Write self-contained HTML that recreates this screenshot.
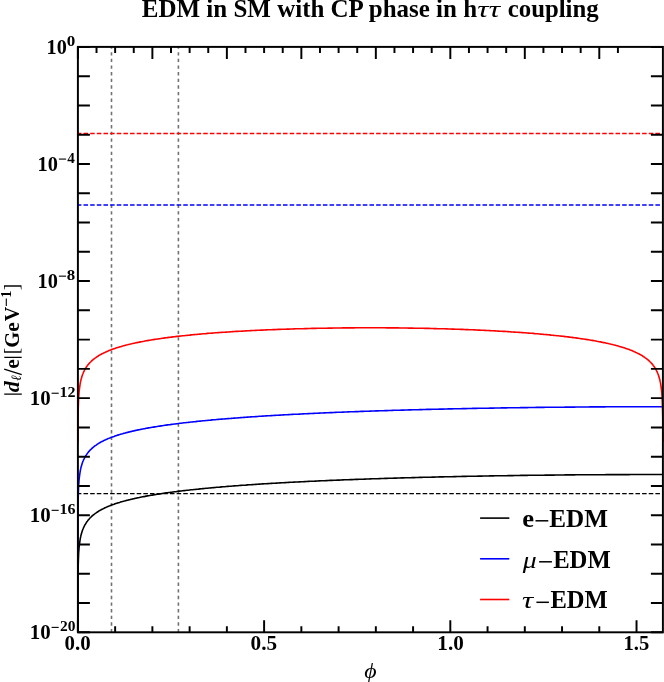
<!DOCTYPE html>
<html><head><meta charset="utf-8"><title>EDM</title>
<style>html,body{margin:0;padding:0;background:#fff;width:664px;height:682px;overflow:hidden}svg{display:block}</style></head>
<body>
<svg width="664" height="682" viewBox="0 0 664 682">
<rect width="664" height="682" fill="#fff"/>
<line x1="111.50" y1="632.30" x2="111.50" y2="46.90" stroke="#727272" stroke-width="1.6" stroke-dasharray="3.3 3.33"/>
<line x1="178.40" y1="632.30" x2="178.40" y2="46.90" stroke="#727272" stroke-width="1.6" stroke-dasharray="3.3 3.33"/>
<line x1="77.90" y1="133.45" x2="662.90" y2="133.45" stroke="#ff0000" stroke-width="1.4" stroke-dasharray="4.55 2.1" stroke-dashoffset="1.05"/>
<line x1="77.90" y1="204.95" x2="662.90" y2="204.95" stroke="#0000ff" stroke-width="1.4" stroke-dasharray="4.55 2.1" stroke-dashoffset="1.05"/>
<line x1="77.90" y1="493.60" x2="662.90" y2="493.60" stroke="#000" stroke-width="1.4" stroke-dasharray="4.55 2.1" stroke-dashoffset="1.05"/>
<g fill="none" stroke-width="1.6" stroke-linejoin="round">
<path d="M77.9 620.9 L77.9 615.3 L77.9 597.7 L77.9 591.6 L78.0 587.3 L78.0 580.0 L78.0 577.6 L78.0 574.4 L78.1 569.7 L78.2 565.8 L78.3 562.4 L78.3 562.3 L78.4 559.4 L78.5 556.7 L78.6 554.3 L78.6 553.5 L78.7 552.1 L78.9 550.1 L79.0 548.2 L79.2 546.4 L79.4 544.8 L79.6 543.3 L79.8 541.8 L80.0 540.4 L80.2 539.1 L80.4 537.9 L80.7 536.7 L80.9 535.6 L81.2 534.5 L81.5 533.5 L81.8 532.5 L82.1 531.5 L82.4 530.6 L82.7 529.7 L83.1 528.8 L83.4 528.0 L83.8 527.2 L84.2 526.4 L84.5 525.7 L84.9 524.9 L85.4 524.2 L85.8 523.5 L86.2 522.9 L86.6 522.2 L87.1 521.6 L87.6 520.9 L88.0 520.3 L88.5 519.7 L89.0 519.2 L89.5 518.6 L90.0 518.0 L90.6 517.5 L91.1 517.0 L91.7 516.4 L92.2 515.9 L92.8 515.4 L93.4 514.9 L94.0 514.5 L94.6 514.0 L95.2 513.5 L95.8 513.1 L96.5 512.6 L97.1 512.2 L97.8 511.8 L98.4 511.3 L99.1 510.9 L99.8 510.5 L100.5 510.1 L101.2 509.7 L102.0 509.3 L102.7 509.0 L103.4 508.6 L104.2 508.2 L105.0 507.8 L105.7 507.5 L106.5 507.1 L107.3 506.8 L108.1 506.4 L109.0 506.1 L109.8 505.8 L110.6 505.4 L111.5 505.1 L112.3 504.8 L113.2 504.5 L114.1 504.2 L115.0 503.8 L115.9 503.5 L116.8 503.2 L117.7 502.9 L118.6 502.7 L119.6 502.4 L120.5 502.1 L121.5 501.8 L122.5 501.5 L123.4 501.2 L124.4 501.0 L125.4 500.7 L126.4 500.4 L127.5 500.2 L128.5 499.9 L129.5 499.7 L130.6 499.4 L131.6 499.2 L132.7 498.9 L133.8 498.7 L134.8 498.4 L135.9 498.2 L137.0 497.9 L138.2 497.7 L139.3 497.5 L140.4 497.2 L141.6 497.0 L142.7 496.8 L143.9 496.6 L145.0 496.4 L146.2 496.1 L147.4 495.9 L148.6 495.7 L149.8 495.5 L151.0 495.3 L152.2 495.1 L153.4 494.9 L154.7 494.7 L155.9 494.5 L157.2 494.3 L158.4 494.1 L159.7 493.9 L161.0 493.7 L162.3 493.5 L163.6 493.3 L164.9 493.1 L166.2 492.9 L167.5 492.7 L168.8 492.5 L170.2 492.4 L171.5 492.2 L172.9 492.0 L174.2 491.8 L175.6 491.7 L177.0 491.5 L178.3 491.3 L179.7 491.1 L181.1 491.0 L182.5 490.8 L184.0 490.6 L185.4 490.5 L186.8 490.3 L188.2 490.2 L189.7 490.0 L191.1 489.8 L192.6 489.7 L194.0 489.5 L195.5 489.4 L197.0 489.2 L198.5 489.1 L200.0 488.9 L201.5 488.8 L203.0 488.6 L204.5 488.5 L206.0 488.3 L207.5 488.2 L209.0 488.0 L210.6 487.9 L212.1 487.7 L213.7 487.6 L215.2 487.5 L216.8 487.3 L218.4 487.2 L219.9 487.1 L221.5 486.9 L223.1 486.8 L224.7 486.7 L226.3 486.5 L227.9 486.4 L229.5 486.3 L231.1 486.2 L232.7 486.0 L234.3 485.9 L236.0 485.8 L237.6 485.7 L239.2 485.5 L240.9 485.4 L242.5 485.3 L244.2 485.2 L245.9 485.1 L247.5 484.9 L249.2 484.8 L250.9 484.7 L252.5 484.6 L254.2 484.5 L255.9 484.4 L257.6 484.3 L259.3 484.1 L261.0 484.0 L262.7 483.9 L264.4 483.8 L266.1 483.7 L267.9 483.6 L269.6 483.5 L271.3 483.4 L273.1 483.3 L274.8 483.2 L276.5 483.1 L278.3 483.0 L280.0 482.9 L281.8 482.8 L283.5 482.7 L285.3 482.6 L287.0 482.5 L288.8 482.4 L290.6 482.3 L292.3 482.2 L294.1 482.1 L295.9 482.0 L297.7 482.0 L299.4 481.9 L301.2 481.8 L303.0 481.7 L304.8 481.6 L306.6 481.5 L308.4 481.4 L310.2 481.3 L312.0 481.3 L313.8 481.2 L315.6 481.1 L317.4 481.0 L319.2 480.9 L321.0 480.8 L322.8 480.8 L324.6 480.7 L326.5 480.6 L328.3 480.5 L330.1 480.4 L331.9 480.4 L333.7 480.3 L335.6 480.2 L337.4 480.1 L339.2 480.1 L341.0 480.0 L342.9 479.9 L344.7 479.8 L346.5 479.8 L348.4 479.7 L350.2 479.6 L352.0 479.6 L353.9 479.5 L355.7 479.4 L357.5 479.4 L359.4 479.3 L361.2 479.2 L363.0 479.2 L364.9 479.1 L366.7 479.0 L368.6 479.0 L370.4 478.9 L372.2 478.8 L374.1 478.8 L375.9 478.7 L377.8 478.7 L379.6 478.6 L381.4 478.5 L383.3 478.5 L385.1 478.4 L386.9 478.4 L388.8 478.3 L390.6 478.3 L392.4 478.2 L394.3 478.1 L396.1 478.1 L397.9 478.0 L399.8 478.0 L401.6 477.9 L403.4 477.9 L405.2 477.8 L407.1 477.8 L408.9 477.7 L410.7 477.7 L412.5 477.6 L414.3 477.6 L416.2 477.5 L418.0 477.5 L419.8 477.4 L421.6 477.4 L423.4 477.3 L425.2 477.3 L427.0 477.2 L428.8 477.2 L430.6 477.2 L432.4 477.1 L434.2 477.1 L436.0 477.0 L437.8 477.0 L439.6 476.9 L441.4 476.9 L443.1 476.9 L444.9 476.8 L446.7 476.8 L448.5 476.7 L450.2 476.7 L452.0 476.7 L453.8 476.6 L455.5 476.6 L457.3 476.5 L459.0 476.5 L460.8 476.5 L462.5 476.4 L464.3 476.4 L466.0 476.4 L467.7 476.3 L469.5 476.3 L471.2 476.3 L472.9 476.2 L474.7 476.2 L476.4 476.2 L478.1 476.1 L479.8 476.1 L481.5 476.1 L483.2 476.0 L484.9 476.0 L486.6 476.0 L488.3 476.0 L489.9 475.9 L491.6 475.9 L493.3 475.9 L494.9 475.8 L496.6 475.8 L498.3 475.8 L499.9 475.8 L501.6 475.7 L503.2 475.7 L504.8 475.7 L506.5 475.7 L508.1 475.6 L509.7 475.6 L511.3 475.6 L512.9 475.6 L514.5 475.5 L516.1 475.5 L517.7 475.5 L519.3 475.5 L520.9 475.4 L522.4 475.4 L524.0 475.4 L525.6 475.4 L527.1 475.4 L528.7 475.3 L530.2 475.3 L531.8 475.3 L533.3 475.3 L534.8 475.3 L536.3 475.2 L537.8 475.2 L539.3 475.2 L540.8 475.2 L542.3 475.2 L543.8 475.2 L545.3 475.1 L546.8 475.1 L548.2 475.1 L549.7 475.1 L551.1 475.1 L552.6 475.1 L554.0 475.1 L555.4 475.0 L556.8 475.0 L558.3 475.0 L559.7 475.0 L561.1 475.0 L562.5 475.0 L563.8 475.0 L565.2 474.9 L566.6 474.9 L567.9 474.9 L569.3 474.9 L570.6 474.9 L572.0 474.9 L573.3 474.9 L574.6 474.9 L575.9 474.8 L577.2 474.8 L578.5 474.8 L579.8 474.8 L581.1 474.8 L582.4 474.8 L583.6 474.8 L584.9 474.8 L586.1 474.8 L587.4 474.8 L588.6 474.8 L589.8 474.7 L591.0 474.7 L592.2 474.7 L593.4 474.7 L594.6 474.7 L595.8 474.7 L596.9 474.7 L598.1 474.7 L599.2 474.7 L600.4 474.7 L601.5 474.7 L602.6 474.7 L603.8 474.7 L604.9 474.7 L606.0 474.6 L607.0 474.6 L608.1 474.6 L609.2 474.6 L610.2 474.6 L611.3 474.6 L612.3 474.6 L613.3 474.6 L614.4 474.6 L615.4 474.6 L616.4 474.6 L617.4 474.6 L618.3 474.6 L619.3 474.6 L620.3 474.6 L621.2 474.6 L622.2 474.6 L623.1 474.6 L624.0 474.6 L624.9 474.6 L625.8 474.6 L626.7 474.6 L627.6 474.6 L628.5 474.6 L629.3 474.6 L630.2 474.5 L631.0 474.5 L631.8 474.5 L632.7 474.5 L633.5 474.5 L634.3 474.5 L635.1 474.5 L635.8 474.5 L636.6 474.5 L637.4 474.5 L638.1 474.5 L638.8 474.5 L639.6 474.5 L640.3 474.5 L641.0 474.5 L641.7 474.5 L642.4 474.5 L643.0 474.5 L643.7 474.5 L644.3 474.5 L645.0 474.5 L645.6 474.5 L646.2 474.5 L646.8 474.5 L647.4 474.5 L648.0 474.5 L648.6 474.5 L649.1 474.5 L649.7 474.5 L650.2 474.5 L650.8 474.5 L651.3 474.5 L651.8 474.5 L652.3 474.5 L652.8 474.5 L653.2 474.5 L653.7 474.5 L654.2 474.5 L654.6 474.5 L655.0 474.5 L655.4 474.5 L655.9 474.5 L656.3 474.5 L656.6 474.5 L657.0 474.5 L657.4 474.5 L657.7 474.5 L658.1 474.5 L658.4 474.5 L658.7 474.5 L659.0 474.5 L659.3 474.5 L659.6 474.5 L659.9 474.5 L660.1 474.5 L660.4 474.5 L660.6 474.5 L660.8 474.5 L661.0 474.5 L661.2 474.5 L661.4 474.5 L661.6 474.5 L661.8 474.5 L661.9 474.5 L662.1 474.5 L662.2 474.5 L662.2 474.5 L662.3 474.5 L662.4 474.5 L662.5 474.5 L662.5 474.5 L662.6 474.5 L662.7 474.5 L662.8 474.5 L662.8 474.5 L662.8 474.5 L662.8 474.5 L662.9 474.5 L662.9 474.5 L662.9 474.5 L662.9 474.5 L662.9 474.5 L662.9 474.5 L662.9 474.5" stroke="#000"/>
<path d="M77.9 553.1 L77.9 547.5 L77.9 529.9 L77.9 523.8 L78.0 519.5 L78.0 512.2 L78.0 509.8 L78.0 506.6 L78.1 501.9 L78.2 498.0 L78.3 494.6 L78.3 494.5 L78.4 491.6 L78.5 488.9 L78.6 486.5 L78.6 485.7 L78.7 484.3 L78.9 482.3 L79.0 480.4 L79.2 478.6 L79.4 477.0 L79.6 475.5 L79.8 474.0 L80.0 472.6 L80.2 471.3 L80.4 470.1 L80.7 468.9 L80.9 467.8 L81.2 466.7 L81.5 465.7 L81.8 464.7 L82.1 463.7 L82.4 462.8 L82.7 461.9 L83.1 461.0 L83.4 460.2 L83.8 459.4 L84.2 458.6 L84.5 457.9 L84.9 457.1 L85.4 456.4 L85.8 455.7 L86.2 455.1 L86.6 454.4 L87.1 453.8 L87.6 453.1 L88.0 452.5 L88.5 451.9 L89.0 451.4 L89.5 450.8 L90.0 450.2 L90.6 449.7 L91.1 449.2 L91.7 448.6 L92.2 448.1 L92.8 447.6 L93.4 447.1 L94.0 446.7 L94.6 446.2 L95.2 445.7 L95.8 445.3 L96.5 444.8 L97.1 444.4 L97.8 444.0 L98.4 443.5 L99.1 443.1 L99.8 442.7 L100.5 442.3 L101.2 441.9 L102.0 441.5 L102.7 441.2 L103.4 440.8 L104.2 440.4 L105.0 440.0 L105.7 439.7 L106.5 439.3 L107.3 439.0 L108.1 438.6 L109.0 438.3 L109.8 438.0 L110.6 437.6 L111.5 437.3 L112.3 437.0 L113.2 436.7 L114.1 436.4 L115.0 436.0 L115.9 435.7 L116.8 435.4 L117.7 435.1 L118.6 434.9 L119.6 434.6 L120.5 434.3 L121.5 434.0 L122.5 433.7 L123.4 433.4 L124.4 433.2 L125.4 432.9 L126.4 432.6 L127.5 432.4 L128.5 432.1 L129.5 431.9 L130.6 431.6 L131.6 431.4 L132.7 431.1 L133.8 430.9 L134.8 430.6 L135.9 430.4 L137.0 430.1 L138.2 429.9 L139.3 429.7 L140.4 429.4 L141.6 429.2 L142.7 429.0 L143.9 428.8 L145.0 428.6 L146.2 428.3 L147.4 428.1 L148.6 427.9 L149.8 427.7 L151.0 427.5 L152.2 427.3 L153.4 427.1 L154.7 426.9 L155.9 426.7 L157.2 426.5 L158.4 426.3 L159.7 426.1 L161.0 425.9 L162.3 425.7 L163.6 425.5 L164.9 425.3 L166.2 425.1 L167.5 424.9 L168.8 424.7 L170.2 424.6 L171.5 424.4 L172.9 424.2 L174.2 424.0 L175.6 423.9 L177.0 423.7 L178.3 423.5 L179.7 423.3 L181.1 423.2 L182.5 423.0 L184.0 422.8 L185.4 422.7 L186.8 422.5 L188.2 422.4 L189.7 422.2 L191.1 422.0 L192.6 421.9 L194.0 421.7 L195.5 421.6 L197.0 421.4 L198.5 421.3 L200.0 421.1 L201.5 421.0 L203.0 420.8 L204.5 420.7 L206.0 420.5 L207.5 420.4 L209.0 420.2 L210.6 420.1 L212.1 419.9 L213.7 419.8 L215.2 419.7 L216.8 419.5 L218.4 419.4 L219.9 419.3 L221.5 419.1 L223.1 419.0 L224.7 418.9 L226.3 418.7 L227.9 418.6 L229.5 418.5 L231.1 418.4 L232.7 418.2 L234.3 418.1 L236.0 418.0 L237.6 417.9 L239.2 417.7 L240.9 417.6 L242.5 417.5 L244.2 417.4 L245.9 417.3 L247.5 417.1 L249.2 417.0 L250.9 416.9 L252.5 416.8 L254.2 416.7 L255.9 416.6 L257.6 416.5 L259.3 416.3 L261.0 416.2 L262.7 416.1 L264.4 416.0 L266.1 415.9 L267.9 415.8 L269.6 415.7 L271.3 415.6 L273.1 415.5 L274.8 415.4 L276.5 415.3 L278.3 415.2 L280.0 415.1 L281.8 415.0 L283.5 414.9 L285.3 414.8 L287.0 414.7 L288.8 414.6 L290.6 414.5 L292.3 414.4 L294.1 414.3 L295.9 414.2 L297.7 414.2 L299.4 414.1 L301.2 414.0 L303.0 413.9 L304.8 413.8 L306.6 413.7 L308.4 413.6 L310.2 413.5 L312.0 413.5 L313.8 413.4 L315.6 413.3 L317.4 413.2 L319.2 413.1 L321.0 413.0 L322.8 413.0 L324.6 412.9 L326.5 412.8 L328.3 412.7 L330.1 412.6 L331.9 412.6 L333.7 412.5 L335.6 412.4 L337.4 412.3 L339.2 412.3 L341.0 412.2 L342.9 412.1 L344.7 412.0 L346.5 412.0 L348.4 411.9 L350.2 411.8 L352.0 411.8 L353.9 411.7 L355.7 411.6 L357.5 411.6 L359.4 411.5 L361.2 411.4 L363.0 411.4 L364.9 411.3 L366.7 411.2 L368.6 411.2 L370.4 411.1 L372.2 411.0 L374.1 411.0 L375.9 410.9 L377.8 410.9 L379.6 410.8 L381.4 410.7 L383.3 410.7 L385.1 410.6 L386.9 410.6 L388.8 410.5 L390.6 410.5 L392.4 410.4 L394.3 410.3 L396.1 410.3 L397.9 410.2 L399.8 410.2 L401.6 410.1 L403.4 410.1 L405.2 410.0 L407.1 410.0 L408.9 409.9 L410.7 409.9 L412.5 409.8 L414.3 409.8 L416.2 409.7 L418.0 409.7 L419.8 409.6 L421.6 409.6 L423.4 409.5 L425.2 409.5 L427.0 409.4 L428.8 409.4 L430.6 409.4 L432.4 409.3 L434.2 409.3 L436.0 409.2 L437.8 409.2 L439.6 409.1 L441.4 409.1 L443.1 409.1 L444.9 409.0 L446.7 409.0 L448.5 408.9 L450.2 408.9 L452.0 408.9 L453.8 408.8 L455.5 408.8 L457.3 408.7 L459.0 408.7 L460.8 408.7 L462.5 408.6 L464.3 408.6 L466.0 408.6 L467.7 408.5 L469.5 408.5 L471.2 408.5 L472.9 408.4 L474.7 408.4 L476.4 408.4 L478.1 408.3 L479.8 408.3 L481.5 408.3 L483.2 408.2 L484.9 408.2 L486.6 408.2 L488.3 408.2 L489.9 408.1 L491.6 408.1 L493.3 408.1 L494.9 408.0 L496.6 408.0 L498.3 408.0 L499.9 408.0 L501.6 407.9 L503.2 407.9 L504.8 407.9 L506.5 407.9 L508.1 407.8 L509.7 407.8 L511.3 407.8 L512.9 407.8 L514.5 407.7 L516.1 407.7 L517.7 407.7 L519.3 407.7 L520.9 407.6 L522.4 407.6 L524.0 407.6 L525.6 407.6 L527.1 407.6 L528.7 407.5 L530.2 407.5 L531.8 407.5 L533.3 407.5 L534.8 407.5 L536.3 407.4 L537.8 407.4 L539.3 407.4 L540.8 407.4 L542.3 407.4 L543.8 407.4 L545.3 407.3 L546.8 407.3 L548.2 407.3 L549.7 407.3 L551.1 407.3 L552.6 407.3 L554.0 407.3 L555.4 407.2 L556.8 407.2 L558.3 407.2 L559.7 407.2 L561.1 407.2 L562.5 407.2 L563.8 407.2 L565.2 407.1 L566.6 407.1 L567.9 407.1 L569.3 407.1 L570.6 407.1 L572.0 407.1 L573.3 407.1 L574.6 407.1 L575.9 407.0 L577.2 407.0 L578.5 407.0 L579.8 407.0 L581.1 407.0 L582.4 407.0 L583.6 407.0 L584.9 407.0 L586.1 407.0 L587.4 407.0 L588.6 407.0 L589.8 406.9 L591.0 406.9 L592.2 406.9 L593.4 406.9 L594.6 406.9 L595.8 406.9 L596.9 406.9 L598.1 406.9 L599.2 406.9 L600.4 406.9 L601.5 406.9 L602.6 406.9 L603.8 406.9 L604.9 406.9 L606.0 406.8 L607.0 406.8 L608.1 406.8 L609.2 406.8 L610.2 406.8 L611.3 406.8 L612.3 406.8 L613.3 406.8 L614.4 406.8 L615.4 406.8 L616.4 406.8 L617.4 406.8 L618.3 406.8 L619.3 406.8 L620.3 406.8 L621.2 406.8 L622.2 406.8 L623.1 406.8 L624.0 406.8 L624.9 406.8 L625.8 406.8 L626.7 406.8 L627.6 406.8 L628.5 406.8 L629.3 406.8 L630.2 406.7 L631.0 406.7 L631.8 406.7 L632.7 406.7 L633.5 406.7 L634.3 406.7 L635.1 406.7 L635.8 406.7 L636.6 406.7 L637.4 406.7 L638.1 406.7 L638.8 406.7 L639.6 406.7 L640.3 406.7 L641.0 406.7 L641.7 406.7 L642.4 406.7 L643.0 406.7 L643.7 406.7 L644.3 406.7 L645.0 406.7 L645.6 406.7 L646.2 406.7 L646.8 406.7 L647.4 406.7 L648.0 406.7 L648.6 406.7 L649.1 406.7 L649.7 406.7 L650.2 406.7 L650.8 406.7 L651.3 406.7 L651.8 406.7 L652.3 406.7 L652.8 406.7 L653.2 406.7 L653.7 406.7 L654.2 406.7 L654.6 406.7 L655.0 406.7 L655.4 406.7 L655.9 406.7 L656.3 406.7 L656.6 406.7 L657.0 406.7 L657.4 406.7 L657.7 406.7 L658.1 406.7 L658.4 406.7 L658.7 406.7 L659.0 406.7 L659.3 406.7 L659.6 406.7 L659.9 406.7 L660.1 406.7 L660.4 406.7 L660.6 406.7 L660.8 406.7 L661.0 406.7 L661.2 406.7 L661.4 406.7 L661.6 406.7 L661.8 406.7 L661.9 406.7 L662.1 406.7 L662.2 406.7 L662.2 406.7 L662.3 406.7 L662.4 406.7 L662.5 406.7 L662.5 406.7 L662.6 406.7 L662.7 406.7 L662.8 406.7 L662.8 406.7 L662.8 406.7 L662.8 406.7 L662.9 406.7 L662.9 406.7 L662.9 406.7 L662.9 406.7 L662.9 406.7 L662.9 406.7 L662.9 406.7" stroke="#0000ff"/>
<path d="M77.9 442.1 L77.9 436.1 L78.0 431.8 L78.0 424.5 L78.0 422.1 L78.0 418.8 L78.1 414.2 L78.2 410.3 L78.3 406.9 L78.3 406.8 L78.4 403.9 L78.5 401.2 L78.6 398.8 L78.6 398.0 L78.7 396.6 L78.9 394.6 L79.0 392.7 L79.2 390.9 L79.4 389.3 L79.6 387.7 L79.8 386.3 L80.0 384.9 L80.2 383.6 L80.4 382.4 L80.7 381.2 L80.9 380.1 L81.2 379.0 L81.5 378.0 L81.8 377.0 L82.1 376.0 L82.4 375.1 L82.7 374.2 L83.1 373.3 L83.4 372.5 L83.8 371.7 L84.2 370.9 L84.5 370.2 L84.9 369.4 L85.4 368.7 L85.8 368.0 L86.2 367.3 L86.6 366.7 L87.1 366.1 L87.6 365.4 L88.0 364.8 L88.5 364.2 L89.0 363.6 L89.5 363.1 L90.0 362.5 L90.6 362.0 L91.1 361.5 L91.7 360.9 L92.2 360.4 L92.8 359.9 L93.4 359.4 L94.0 359.0 L94.6 358.5 L95.2 358.0 L95.8 357.6 L96.5 357.1 L97.1 356.7 L97.8 356.3 L98.4 355.8 L99.1 355.4 L99.8 355.0 L100.5 354.6 L101.2 354.2 L102.0 353.8 L102.7 353.5 L103.4 353.1 L104.2 352.7 L105.0 352.4 L105.7 352.0 L106.5 351.7 L107.3 351.3 L108.1 351.0 L109.0 350.6 L109.8 350.3 L110.6 350.0 L111.5 349.6 L112.3 349.3 L113.2 349.0 L114.1 348.7 L115.0 348.4 L115.9 348.1 L116.8 347.8 L117.7 347.5 L118.6 347.2 L119.6 346.9 L120.5 346.7 L121.5 346.4 L122.5 346.1 L123.4 345.8 L124.4 345.6 L125.4 345.3 L126.4 345.0 L127.5 344.8 L128.5 344.5 L129.5 344.3 L130.6 344.0 L131.6 343.8 L132.7 343.5 L133.8 343.3 L134.8 343.1 L135.9 342.8 L137.0 342.6 L138.2 342.4 L139.3 342.1 L140.4 341.9 L141.6 341.7 L142.7 341.5 L143.9 341.3 L145.0 341.0 L146.2 340.8 L147.4 340.6 L148.6 340.4 L149.8 340.2 L151.0 340.0 L152.2 339.8 L153.4 339.6 L154.7 339.4 L155.9 339.2 L157.2 339.0 L158.4 338.9 L159.7 338.7 L161.0 338.5 L162.3 338.3 L163.6 338.1 L164.9 337.9 L166.2 337.8 L167.5 337.6 L168.8 337.4 L170.2 337.3 L171.5 337.1 L172.9 336.9 L174.2 336.8 L175.6 336.6 L177.0 336.4 L178.3 336.3 L179.7 336.1 L181.1 336.0 L182.5 335.8 L184.0 335.7 L185.4 335.5 L186.8 335.4 L188.2 335.2 L189.7 335.1 L191.1 334.9 L192.6 334.8 L194.0 334.6 L195.5 334.5 L197.0 334.4 L198.5 334.2 L200.0 334.1 L201.5 334.0 L203.0 333.8 L204.5 333.7 L206.0 333.6 L207.5 333.4 L209.0 333.3 L210.6 333.2 L212.1 333.1 L213.7 333.0 L215.2 332.8 L216.8 332.7 L218.4 332.6 L219.9 332.5 L221.5 332.4 L223.1 332.3 L224.7 332.2 L226.3 332.1 L227.9 332.0 L229.5 331.9 L231.1 331.7 L232.7 331.6 L234.3 331.5 L236.0 331.4 L237.6 331.4 L239.2 331.3 L240.9 331.2 L242.5 331.1 L244.2 331.0 L245.9 330.9 L247.5 330.8 L249.2 330.7 L250.9 330.6 L252.5 330.5 L254.2 330.5 L255.9 330.4 L257.6 330.3 L259.3 330.2 L261.0 330.1 L262.7 330.1 L264.4 330.0 L266.1 329.9 L267.9 329.8 L269.6 329.8 L271.3 329.7 L273.1 329.6 L274.8 329.6 L276.5 329.5 L278.3 329.4 L280.0 329.4 L281.8 329.3 L283.5 329.2 L285.3 329.2 L287.0 329.1 L288.8 329.1 L290.6 329.0 L292.3 329.0 L294.1 328.9 L295.9 328.8 L297.7 328.8 L299.4 328.7 L301.2 328.7 L303.0 328.7 L304.8 328.6 L306.6 328.6 L308.4 328.5 L310.2 328.5 L312.0 328.4 L313.8 328.4 L315.6 328.4 L317.4 328.3 L319.2 328.3 L321.0 328.3 L322.8 328.2 L324.6 328.2 L326.5 328.2 L328.3 328.1 L330.1 328.1 L331.9 328.1 L333.7 328.0 L335.6 328.0 L337.4 328.0 L339.2 328.0 L341.0 328.0 L342.9 327.9 L344.7 327.9 L346.5 327.9 L348.4 327.9 L350.2 327.9 L352.0 327.9 L353.9 327.9 L355.7 327.8 L357.5 327.8 L359.4 327.8 L361.2 327.8 L363.0 327.8 L364.9 327.8 L366.7 327.8 L368.6 327.8 L370.4 327.8 L372.2 327.8 L374.1 327.8 L375.9 327.8 L377.8 327.8 L379.6 327.8 L381.4 327.8 L383.3 327.8 L385.1 327.8 L386.9 327.9 L388.8 327.9 L390.6 327.9 L392.4 327.9 L394.3 327.9 L396.1 327.9 L397.9 327.9 L399.8 328.0 L401.6 328.0 L403.4 328.0 L405.2 328.0 L407.1 328.0 L408.9 328.1 L410.7 328.1 L412.5 328.1 L414.3 328.2 L416.2 328.2 L418.0 328.2 L419.8 328.3 L421.6 328.3 L423.4 328.3 L425.2 328.4 L427.0 328.4 L428.8 328.4 L430.6 328.5 L432.4 328.5 L434.2 328.6 L436.0 328.6 L437.8 328.7 L439.6 328.7 L441.4 328.7 L443.1 328.8 L444.9 328.8 L446.7 328.9 L448.5 329.0 L450.2 329.0 L452.0 329.1 L453.8 329.1 L455.5 329.2 L457.3 329.2 L459.0 329.3 L460.8 329.4 L462.5 329.4 L464.3 329.5 L466.0 329.6 L467.7 329.6 L469.5 329.7 L471.2 329.8 L472.9 329.8 L474.7 329.9 L476.4 330.0 L478.1 330.1 L479.8 330.1 L481.5 330.2 L483.2 330.3 L484.9 330.4 L486.6 330.5 L488.3 330.5 L489.9 330.6 L491.6 330.7 L493.3 330.8 L494.9 330.9 L496.6 331.0 L498.3 331.1 L499.9 331.2 L501.6 331.3 L503.2 331.4 L504.8 331.4 L506.5 331.5 L508.1 331.6 L509.7 331.7 L511.3 331.9 L512.9 332.0 L514.5 332.1 L516.1 332.2 L517.7 332.3 L519.3 332.4 L520.9 332.5 L522.4 332.6 L524.0 332.7 L525.6 332.8 L527.1 333.0 L528.7 333.1 L530.2 333.2 L531.8 333.3 L533.3 333.4 L534.8 333.6 L536.3 333.7 L537.8 333.8 L539.3 334.0 L540.8 334.1 L542.3 334.2 L543.8 334.4 L545.3 334.5 L546.8 334.6 L548.2 334.8 L549.7 334.9 L551.1 335.1 L552.6 335.2 L554.0 335.4 L555.4 335.5 L556.8 335.7 L558.3 335.8 L559.7 336.0 L561.1 336.1 L562.5 336.3 L563.8 336.4 L565.2 336.6 L566.6 336.8 L567.9 336.9 L569.3 337.1 L570.6 337.3 L572.0 337.4 L573.3 337.6 L574.6 337.8 L575.9 337.9 L577.2 338.1 L578.5 338.3 L579.8 338.5 L581.1 338.7 L582.4 338.9 L583.6 339.0 L584.9 339.2 L586.1 339.4 L587.4 339.6 L588.6 339.8 L589.8 340.0 L591.0 340.2 L592.2 340.4 L593.4 340.6 L594.6 340.8 L595.8 341.0 L596.9 341.3 L598.1 341.5 L599.2 341.7 L600.4 341.9 L601.5 342.1 L602.6 342.4 L603.8 342.6 L604.9 342.8 L606.0 343.1 L607.0 343.3 L608.1 343.5 L609.2 343.8 L610.2 344.0 L611.3 344.3 L612.3 344.5 L613.3 344.8 L614.4 345.0 L615.4 345.3 L616.4 345.6 L617.4 345.8 L618.3 346.1 L619.3 346.4 L620.3 346.7 L621.2 346.9 L622.2 347.2 L623.1 347.5 L624.0 347.8 L624.9 348.1 L625.8 348.4 L626.7 348.7 L627.6 349.0 L628.5 349.3 L629.3 349.6 L630.2 350.0 L631.0 350.3 L631.8 350.6 L632.7 351.0 L633.5 351.3 L634.3 351.7 L635.1 352.0 L635.8 352.4 L636.6 352.7 L637.4 353.1 L638.1 353.5 L638.8 353.8 L639.6 354.2 L640.3 354.6 L641.0 355.0 L641.7 355.4 L642.4 355.8 L643.0 356.3 L643.7 356.7 L644.3 357.1 L645.0 357.6 L645.6 358.0 L646.2 358.5 L646.8 359.0 L647.4 359.4 L648.0 359.9 L648.6 360.4 L649.1 360.9 L649.7 361.5 L650.2 362.0 L650.8 362.5 L651.3 363.1 L651.8 363.6 L652.3 364.2 L652.8 364.8 L653.2 365.4 L653.7 366.1 L654.2 366.7 L654.6 367.3 L655.0 368.0 L655.4 368.7 L655.9 369.4 L656.3 370.2 L656.6 370.9 L657.0 371.7 L657.4 372.5 L657.7 373.3 L658.1 374.2 L658.4 375.1 L658.7 376.0 L659.0 377.0 L659.3 378.0 L659.6 379.0 L659.9 380.1 L660.1 381.2 L660.4 382.4 L660.6 383.6 L660.8 384.9 L661.0 386.3 L661.2 387.7 L661.4 389.3 L661.6 390.9 L661.8 392.7 L661.9 394.6 L662.1 396.6 L662.2 398.0 L662.2 398.8 L662.3 401.2 L662.4 403.9 L662.5 406.8 L662.5 406.9 L662.6 410.3 L662.7 414.2 L662.8 418.8 L662.8 422.1 L662.8 424.5 L662.8 431.8 L662.9 436.1 L662.9 442.1" stroke="#ff0000"/>
</g>
<path d="M77.90 46.90 h12.0 M662.90 46.90 h-12.0 M77.90 76.17 h12.0 M662.90 76.17 h-12.0 M77.90 105.44 h12.0 M662.90 105.44 h-12.0 M77.90 134.71 h12.0 M662.90 134.71 h-12.0 M77.90 163.98 h12.0 M662.90 163.98 h-12.0 M77.90 193.25 h12.0 M662.90 193.25 h-12.0 M77.90 222.52 h12.0 M662.90 222.52 h-12.0 M77.90 251.79 h12.0 M662.90 251.79 h-12.0 M77.90 281.06 h12.0 M662.90 281.06 h-12.0 M77.90 310.33 h12.0 M662.90 310.33 h-12.0 M77.90 339.60 h12.0 M662.90 339.60 h-12.0 M77.90 368.87 h12.0 M662.90 368.87 h-12.0 M77.90 398.14 h12.0 M662.90 398.14 h-12.0 M77.90 427.41 h12.0 M662.90 427.41 h-12.0 M77.90 456.68 h12.0 M662.90 456.68 h-12.0 M77.90 485.95 h12.0 M662.90 485.95 h-12.0 M77.90 515.22 h12.0 M662.90 515.22 h-12.0 M77.90 544.49 h12.0 M662.90 544.49 h-12.0 M77.90 573.76 h12.0 M662.90 573.76 h-12.0 M77.90 603.03 h12.0 M662.90 603.03 h-12.0 M77.90 632.30 h12.0 M662.90 632.30 h-12.0 M77.90 632.30 v-12.0 M115.14 632.30 v-6.0 M152.38 632.30 v-6.0 M189.63 632.30 v-6.0 M226.87 632.30 v-6.0 M264.11 632.30 v-12.0 M301.35 632.30 v-6.0 M338.60 632.30 v-6.0 M375.84 632.30 v-6.0 M413.08 632.30 v-6.0 M450.32 632.30 v-12.0 M487.56 632.30 v-6.0 M524.81 632.30 v-6.0 M562.05 632.30 v-6.0 M599.29 632.30 v-6.0 M636.53 632.30 v-12.0 M77.90 46.90 v12.0 M96.52 46.90 v6.0 M115.14 46.90 v6.0 M133.76 46.90 v6.0 M152.38 46.90 v12.0 M171.01 46.90 v6.0 M189.63 46.90 v6.0 M208.25 46.90 v6.0 M226.87 46.90 v12.0 M245.49 46.90 v6.0 M264.11 46.90 v6.0 M282.73 46.90 v6.0 M301.35 46.90 v12.0 M319.97 46.90 v6.0 M338.60 46.90 v6.0 M357.22 46.90 v6.0 M375.84 46.90 v12.0 M394.46 46.90 v6.0 M413.08 46.90 v6.0 M431.70 46.90 v6.0 M450.32 46.90 v12.0 M468.94 46.90 v6.0 M487.56 46.90 v6.0 M506.19 46.90 v6.0 M524.81 46.90 v12.0 M543.43 46.90 v6.0 M562.05 46.90 v6.0 M580.67 46.90 v6.0 M599.29 46.90 v12.0 M617.91 46.90 v6.0" fill="none" stroke="#000" stroke-width="1.95"/>
<rect x="77.90" y="46.90" width="585.00" height="585.40" fill="none" stroke="#000" stroke-width="1.95"/>
<line x1="480.1" y1="518.1" x2="509.3" y2="518.1" stroke="#000" stroke-width="1.6"/>
<line x1="480.1" y1="558.8" x2="509.3" y2="558.8" stroke="#0000ff" stroke-width="1.6"/>
<line x1="480.1" y1="599.5" x2="509.3" y2="599.5" stroke="#ff0000" stroke-width="1.6"/>
<line x1="58.9" y1="159.08" x2="66.1" y2="159.08" stroke="#000" stroke-width="1.1"/>
<line x1="58.9" y1="276.16" x2="66.1" y2="276.16" stroke="#000" stroke-width="1.1"/>
<line x1="51.6" y1="393.24" x2="58.7" y2="393.24" stroke="#000" stroke-width="1.1"/>
<line x1="51.6" y1="510.32" x2="58.7" y2="510.32" stroke="#000" stroke-width="1.1"/>
<line x1="51.6" y1="627.40" x2="58.7" y2="627.40" stroke="#000" stroke-width="1.1"/>
<line x1="535.5" y1="520.80" x2="548.3" y2="520.80" stroke="#000" stroke-width="1.5"/>
<line x1="539.1" y1="561.80" x2="551.9" y2="561.80" stroke="#000" stroke-width="1.5"/>
<line x1="536.4" y1="602.30" x2="548.9" y2="602.30" stroke="#000" stroke-width="1.5"/>
<path d="M4.2 394.1H21.8 M4.3 357.4H21.7 M4.2 369.1L21.7 374.6" stroke="#000" stroke-width="1.3" fill="none"/>
<path d="M6.3 298.5V305.9" stroke="#000" stroke-width="1.1" fill="none"/>
<g font-family="'Liberation Serif', serif" fill="#000" opacity="0.999">
<text transform="translate(141.85 17.20) scale(0.9994 1)" font-weight="bold" font-size="25">EDM in SM with CP phase in h</text>
<text transform="translate(477.29 17.20) scale(1.4154 1)" font-weight="normal" font-style="italic" font-size="22.4">ττ</text>
<text transform="translate(507.76 17.20) scale(0.9917 1)" font-weight="bold" font-size="25">coupling</text>
<text transform="translate(64.53 650.35) scale(1.0250 1)" font-weight="bold" font-size="20.4">0.0</text>
<text transform="translate(250.62 650.35) scale(1.0417 1)" font-weight="bold" font-size="20.4">0.5</text>
<text transform="translate(437.35 650.35) scale(1.0366 1)" font-weight="bold" font-size="20.4">1.0</text>
<text transform="translate(623.48 650.35) scale(1.0108 1)" font-weight="bold" font-size="20.4">1.5</text>
<text transform="translate(46.62 53.70) scale(0.9863 1)" font-weight="bold" font-size="20.5">10</text>
<text transform="translate(66.74 46.00) scale(1.1231 1)" font-weight="bold" font-size="15.2">0</text>
<text transform="translate(37.51 170.78) scale(0.9918 1)" font-weight="bold" font-size="20.5">10</text>
<text transform="translate(67.30 163.08) scale(1.0000 1)" font-weight="bold" font-size="15.2">4</text>
<text transform="translate(37.51 287.86) scale(0.9918 1)" font-weight="bold" font-size="20.5">10</text>
<text transform="translate(66.74 280.16) scale(1.1111 1)" font-weight="bold" font-size="15.2">8</text>
<text transform="translate(29.87 404.94) scale(1.0192 1)" font-weight="bold" font-size="20.5">10</text>
<text transform="translate(59.45 397.24) scale(1.0545 1)" font-weight="bold" font-size="15.2">12</text>
<text transform="translate(29.87 522.02) scale(1.0192 1)" font-weight="bold" font-size="20.5">10</text>
<text transform="translate(59.45 514.32) scale(1.0545 1)" font-weight="bold" font-size="15.2">16</text>
<text transform="translate(29.87 639.10) scale(1.0192 1)" font-weight="bold" font-size="20.5">10</text>
<text transform="translate(59.99 631.40) scale(1.0175 1)" font-weight="bold" font-size="15.2">20</text>
<text transform="translate(522.20 526.80) scale(1.0667 1)" font-weight="bold" font-size="25">e</text>
<text transform="translate(549.25 526.80) scale(1.0052 1)" font-weight="bold" font-size="25">EDM</text>
<text transform="translate(522.80 567.50) scale(1.1818 1)" font-weight="normal" font-style="italic" font-size="23.5">μ</text>
<text transform="translate(553.15 567.50) scale(0.9878 1)" font-weight="bold" font-size="25">EDM</text>
<text transform="translate(522.12 608.30) scale(1.3529 1)" font-weight="normal" font-style="italic" font-size="23">τ</text>
<text transform="translate(550.45 608.30) scale(0.9826 1)" font-weight="bold" font-size="25">EDM</text>
<text transform="translate(364.21 677.70) scale(1.1789 1)" font-weight="normal" font-style="italic" font-size="20.2">ϕ</text>
<text transform="translate(18.90 0) rotate(-90) translate(-392.16 0) scale(1.0233 1)" font-weight="bold" font-style="italic" font-size="21.5">d</text>
<text transform="translate(21.30 0) rotate(-90) translate(-380.70 0) scale(0.9273 1)" font-weight="bold" font-style="italic" font-size="14">ℓ</text>
<text transform="translate(18.90 0) rotate(-90) translate(-368.80 0) scale(1.0000 1)" font-weight="bold" font-size="21.5">e</text>
<text transform="translate(17.90 0) rotate(-90) translate(-354.15 0) scale(0.9000 1)" font-weight="normal" font-size="21.5">[</text>
<text transform="translate(18.90 0) rotate(-90) translate(-347.66 0) scale(0.9574 1)" font-weight="bold" font-size="21.5">G</text>
<text transform="translate(18.90 0) rotate(-90) translate(-331.79 0) scale(0.9879 1)" font-weight="bold" font-size="21.5">e</text>
<text transform="translate(18.90 0) rotate(-90) translate(-321.33 0) scale(0.9377 1)" font-weight="bold" font-size="21.5">V</text>
<text transform="translate(11.00 0) rotate(-90) translate(-297.65 0) scale(0.9500 1)" font-weight="bold" font-size="15.3">1</text>
<text transform="translate(17.90 0) rotate(-90) translate(-290.16 0) scale(0.8800 1)" font-weight="normal" font-size="21.5">]</text>
</g>
</svg>
</body></html>
